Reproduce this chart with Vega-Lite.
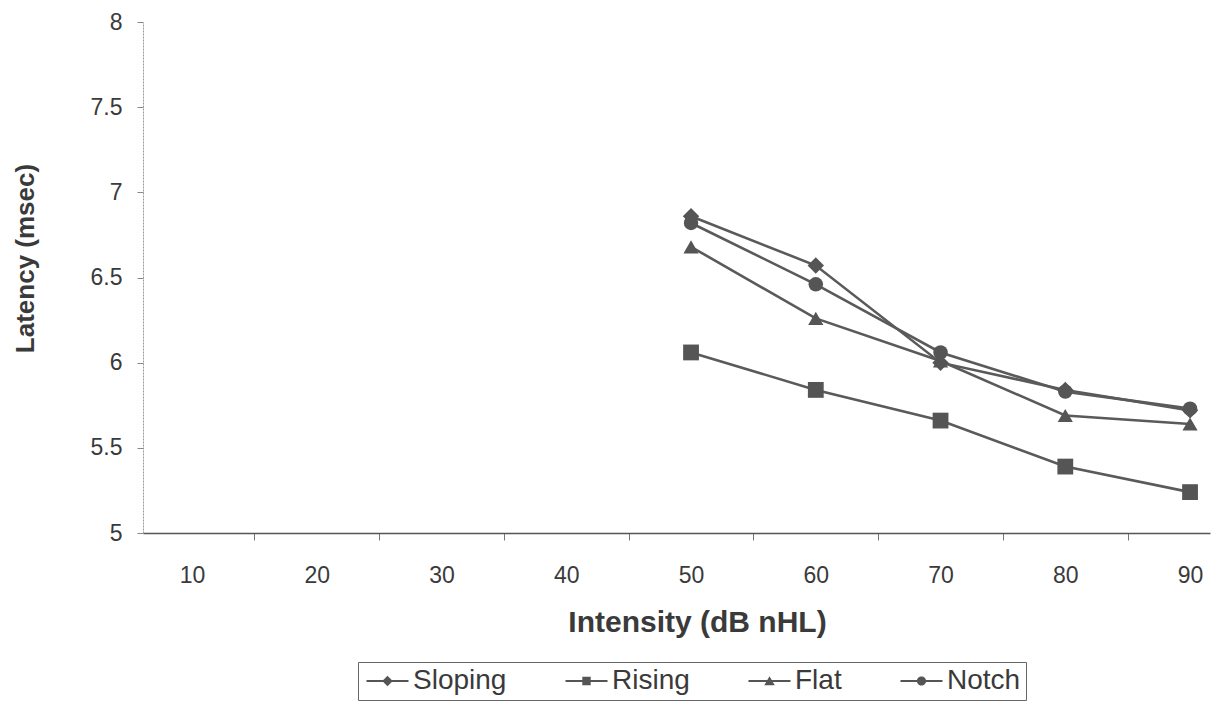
{
  "$schema": "https://vega.github.io/schema/vega-lite/v6.json",
  "autosize": "none",
  "width": 1067,
  "height": 511,
  "padding": {"left": 143, "top": 22, "right": 18, "bottom": 171},
  "background": "white",
  "config": {
    "view": {"stroke": null},
    "font": "Liberation Sans",
    "axis": {"labelFont": "Liberation Sans", "titleFont": "Liberation Sans", "labelColor": "#3a3a3a", "titleColor": "#3a3a3a", "grid": false}
  },
  "data": {
    "values": [
      {"intensity": 50, "latency": 6.86, "series": "Sloping"},
      {"intensity": 60, "latency": 6.57, "series": "Sloping"},
      {"intensity": 70, "latency": 6.0, "series": "Sloping"},
      {"intensity": 80, "latency": 5.84, "series": "Sloping"},
      {"intensity": 90, "latency": 5.72, "series": "Sloping"},
      {"intensity": 50, "latency": 6.06, "series": "Rising"},
      {"intensity": 60, "latency": 5.84, "series": "Rising"},
      {"intensity": 70, "latency": 5.66, "series": "Rising"},
      {"intensity": 80, "latency": 5.39, "series": "Rising"},
      {"intensity": 90, "latency": 5.24, "series": "Rising"},
      {"intensity": 50, "latency": 6.68, "series": "Flat"},
      {"intensity": 60, "latency": 6.26, "series": "Flat"},
      {"intensity": 70, "latency": 6.01, "series": "Flat"},
      {"intensity": 80, "latency": 5.69, "series": "Flat"},
      {"intensity": 90, "latency": 5.64, "series": "Flat"},
      {"intensity": 50, "latency": 6.82, "series": "Notch"},
      {"intensity": 60, "latency": 6.46, "series": "Notch"},
      {"intensity": 70, "latency": 6.06, "series": "Notch"},
      {"intensity": 80, "latency": 5.83, "series": "Notch"},
      {"intensity": 90, "latency": 5.73, "series": "Notch"}
    ]
  },
  "encoding": {
    "x": {
      "field": "intensity", "type": "quantitative",
      "scale": {"domain": [6.07, 91.6], "nice": false, "zero": false},
      "axis": {
        "values": [10, 20, 30, 40, 50, 60, 70, 80, 90],
        "format": "d",
        "title": "Intensity (dB nHL)",
        "titleFontSize": 30, "titleFontWeight": "bold", "titlePadding": 20, "titleX": 554,
        "labelFontSize": 23, "labelPadding": 24,
        "tickOffset": 62.4, "labelOffset": -62.4,
        "tickSize": 7, "tickColor": "#777", "tickWidth": 1,
        "domainColor": "#555", "domainWidth": 1.6
      }
    },
    "y": {
      "field": "latency", "type": "quantitative",
      "scale": {"domain": [5, 8], "nice": false, "zero": false},
      "axis": {
        "values": [5, 5.5, 6, 6.5, 7, 7.5, 8],
        "format": ".1~f",
        "title": "Latency (msec)",
        "titleFontSize": 26, "titleFontWeight": "bold", "titlePadding": 52, "titleY": 236,
        "labelFontSize": 23, "labelPadding": 15,
        "tickSize": 6, "tickColor": "#888", "tickWidth": 1,
        "domainColor": "#999", "domainWidth": 1, "domainDash": [2, 1]
      }
    }
  },
  "layer": [
    {
      "mark": {"type": "line", "color": "#5a5a5a", "strokeWidth": 2.6},
      "encoding": {"detail": {"field": "series"}}
    },
    {
      "mark": {"type": "point", "filled": true, "color": "#555", "opacity": 1},
      "encoding": {
        "shape": {
          "field": "series", "type": "nominal",
          "scale": {"domain": ["Sloping", "Rising", "Flat", "Notch"], "range": ["diamond", "square", "triangle-up", "circle"]},
          "legend": null
        },
        "size": {
          "field": "series", "type": "nominal",
          "scale": {"domain": ["Sloping", "Rising", "Flat", "Notch"], "range": [270, 210, 190, 190]},
          "legend": null
        }
      }
    },
    {
      "transform": [{"filter": "false"}],
      "mark": {"type": "point", "filled": true, "color": "#555", "opacity": 1, "size": 441},
      "encoding": {
        "shape": {
          "field": "series", "type": "nominal",
          "scale": {
            "domain": ["Sloping", "Rising", "Flat", "Notch"],
            "range": [
              "M-1,-0.1H3V0.1H-1Z M1,-0.5L1.5,0L1,0.5L0.5,0Z",
              "M-1,-0.1H3V0.1H-1Z M0.6,-0.4H1.4V0.4H0.6Z",
              "M-1,-0.1H3V0.1H-1Z M1,-0.46L1.5,0.4H0.5Z",
              "M-1,-0.1H3V0.1H-1Z M1.44,0A0.44,0.44,0,1,1,0.56,0A0.44,0.44,0,1,1,1.44,0Z"
            ]
          },
          "legend": {
            "title": null,
            "orient": "none",
            "direction": "horizontal",
            "legendX": 215,
            "legendY": 640,
            "symbolSize": 441,
            "symbolStrokeWidth": 0,
            "symbolFillColor": "#555",
            "symbolOpacity": 1,
            "labelFont": "Liberation Sans",
            "labelFontSize": 28,
            "labelColor": "#3a3a3a",
            "labelOffset": 22,
            "labelLimit": 300,
            "columnPadding": 55,
            "padding": 5,
            "strokeColor": "#666",
            "fillColor": "white",
            "offset": 0
          }
        }
      }
    }
  ],
  "resolve": {"scale": {"shape": "independent", "size": "independent"}, "legend": {"shape": "independent"}}
}
